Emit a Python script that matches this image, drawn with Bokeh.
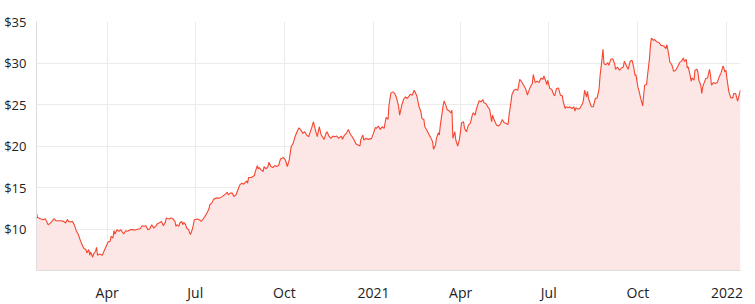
import pandas as pd
from bokeh.plotting import figure
from bokeh.models import (Range1d, FixedTicker, MonthsTicker, NumeralTickFormatter,
                          CustomJSTickFormatter, ColumnDataSource)
from bokeh.embed import file_html
from bokeh.resources import INLINE

dates = [
 "2020-01-19","2020-01-20","2020-01-23","2020-01-26","2020-01-28","2020-01-29","2020-01-31","2020-02-02",
 "2020-02-04","2020-02-06","2020-02-08","2020-02-13","2020-02-16","2020-02-18","2020-02-20","2020-02-21",
 "2020-02-23","2020-02-25","2020-02-27","2020-02-29","2020-03-02","2020-03-04","2020-03-06","2020-03-08",
 "2020-03-10","2020-03-11","2020-03-13","2020-03-14","2020-03-15","2020-03-17","2020-03-18","2020-03-20",
 "2020-03-21","2020-03-22","2020-03-24","2020-03-27","2020-03-28","2020-03-29","2020-03-31","2020-04-02",
 "2020-04-04","2020-04-05","2020-04-07","2020-04-08","2020-04-09","2020-04-11","2020-04-13","2020-04-15",
 "2020-04-18","2020-04-20","2020-04-22","2020-04-25","2020-04-28","2020-04-29","2020-05-03","2020-05-05",
 "2020-05-07","2020-05-09","2020-05-11","2020-05-13","2020-05-15","2020-05-17","2020-05-19","2020-05-21",
 "2020-05-23","2020-05-26","2020-05-27","2020-05-29","2020-05-31","2020-06-01","2020-06-04","2020-06-06",
 "2020-06-08","2020-06-10","2020-06-11","2020-06-12","2020-06-14","2020-06-15","2020-06-17","2020-06-18",
 "2020-06-19","2020-06-21","2020-06-22","2020-06-24","2020-06-25","2020-06-26","2020-06-28","2020-06-29",
 "2020-06-30","2020-07-03","2020-07-05","2020-07-07","2020-07-09","2020-07-11","2020-07-13","2020-07-15",
 "2020-07-16","2020-07-18","2020-07-20","2020-07-23","2020-07-26","2020-07-28","2020-08-01","2020-08-03",
 "2020-08-04","2020-08-06","2020-08-08","2020-08-10","2020-08-12","2020-08-14","2020-08-16","2020-08-18",
 "2020-08-20","2020-08-23","2020-08-24","2020-08-25","2020-08-28","2020-08-31","2020-09-01","2020-09-03",
 "2020-09-04","2020-09-05","2020-09-07","2020-09-09","2020-09-10","2020-09-12","2020-09-14","2020-09-15",
 "2020-09-17","2020-09-19","2020-09-21","2020-09-23","2020-09-25","2020-09-27","2020-09-30","2020-10-02",
 "2020-10-03","2020-10-04","2020-10-06","2020-10-08","2020-10-10","2020-10-12","2020-10-14","2020-10-16",
 "2020-10-18","2020-10-20","2020-10-22","2020-10-24","2020-10-26","2020-10-29","2020-10-31","2020-11-02",
 "2020-11-04","2020-11-05","2020-11-06","2020-11-08","2020-11-11","2020-11-13","2020-11-14","2020-11-16",
 "2020-11-18","2020-11-20","2020-11-22","2020-11-24","2020-11-26","2020-11-29","2020-11-30","2020-12-02",
 "2020-12-04","2020-12-06","2020-12-08","2020-12-10","2020-12-12","2020-12-14","2020-12-16","2020-12-18",
 "2020-12-19","2020-12-21","2020-12-22","2020-12-24","2020-12-27","2020-12-30","2021-01-01","2021-01-03",
 "2021-01-04","2021-01-06","2021-01-08","2021-01-10","2021-01-12","2021-01-13","2021-01-14","2021-01-16",
 "2021-01-17","2021-01-19","2021-01-21","2021-01-23","2021-01-25","2021-01-27","2021-01-28","2021-01-30",
 "2021-02-01","2021-02-03","2021-02-05","2021-02-08","2021-02-10","2021-02-12","2021-02-14","2021-02-15",
 "2021-02-17","2021-02-19","2021-02-20","2021-02-22","2021-02-23","2021-02-25","2021-02-27","2021-03-01",
 "2021-03-03","2021-03-04","2021-03-06","2021-03-07","2021-03-09","2021-03-10","2021-03-11","2021-03-13",
 "2021-03-14","2021-03-15","2021-03-17","2021-03-18","2021-03-20","2021-03-22","2021-03-23","2021-03-24",
 "2021-03-26","2021-03-27","2021-03-29","2021-03-31","2021-04-01","2021-04-02","2021-04-04","2021-04-05",
 "2021-04-07","2021-04-09","2021-04-11","2021-04-13","2021-04-14","2021-04-16","2021-04-17","2021-04-18",
 "2021-04-20","2021-04-22","2021-04-24","2021-04-25","2021-04-27","2021-04-29","2021-05-01","2021-05-03",
 "2021-05-04","2021-05-05","2021-05-08","2021-05-10","2021-05-12","2021-05-14","2021-05-16","2021-05-18",
 "2021-05-20","2021-05-21","2021-05-23","2021-05-24","2021-05-26","2021-05-28","2021-05-30","2021-06-01",
 "2021-06-03","2021-06-05","2021-06-07","2021-06-09","2021-06-10","2021-06-12","2021-06-14","2021-06-15",
 "2021-06-17","2021-06-19","2021-06-21","2021-06-23","2021-06-25","2021-06-26","2021-06-28","2021-06-29",
 "2021-06-30","2021-07-02","2021-07-04","2021-07-06","2021-07-07","2021-07-09","2021-07-11","2021-07-13",
 "2021-07-15","2021-07-16","2021-07-18","2021-07-19","2021-07-21","2021-07-23","2021-07-25","2021-07-27",
 "2021-07-28","2021-07-29","2021-07-31","2021-08-02","2021-08-05","2021-08-06","2021-08-07","2021-08-09",
 "2021-08-10","2021-08-11","2021-08-14","2021-08-16","2021-08-18","2021-08-20","2021-08-22","2021-08-23",
 "2021-08-25","2021-08-26","2021-08-27","2021-08-29","2021-08-31","2021-09-01","2021-09-03","2021-09-05",
 "2021-09-07","2021-09-08","2021-09-10","2021-09-12","2021-09-14","2021-09-16","2021-09-17","2021-09-19",
 "2021-09-21","2021-09-23","2021-09-25","2021-09-27","2021-09-28","2021-09-29","2021-10-01","2021-10-02",
 "2021-10-04","2021-10-06","2021-10-07","2021-10-08","2021-10-10","2021-10-11","2021-10-13","2021-10-14",
 "2021-10-15","2021-10-17","2021-10-18","2021-10-20","2021-10-23","2021-10-25","2021-10-28","2021-10-30",
 "2021-10-31","2021-11-02","2021-11-03","2021-11-05","2021-11-07","2021-11-09","2021-11-11","2021-11-13",
 "2021-11-15","2021-11-17","2021-11-18","2021-11-20","2021-11-21","2021-11-22","2021-11-24","2021-11-25",
 "2021-11-26","2021-11-28","2021-11-29","2021-12-01","2021-12-02","2021-12-03","2021-12-05","2021-12-06",
 "2021-12-07","2021-12-10","2021-12-12","2021-12-14","2021-12-15","2021-12-16","2021-12-18","2021-12-20",
 "2021-12-22","2021-12-24","2021-12-26","2021-12-28","2021-12-30","2021-12-31","2022-01-01","2022-01-03",
 "2022-01-05","2022-01-07","2022-01-08","2022-01-10","2022-01-12","2022-01-14","2022-01-15",
]

prices = [
 11.92,11.40,11.24,11.12,11.24,11.04,10.52,10.68,
 10.92,11.24,11.00,11.00,10.92,10.72,11.16,10.92,
 10.84,10.92,10.52,9.80,9.40,8.72,8.12,7.64,
 7.52,7.12,7.52,6.84,7.24,6.60,7.00,7.32,
 7.80,6.84,7.00,6.84,7.12,7.40,7.92,8.44,
 8.52,9.12,8.92,9.80,9.40,9.92,9.72,9.92,
 9.40,9.80,9.72,9.92,9.92,9.84,10.00,10.00,
 10.40,10.32,10.40,9.92,10.04,10.52,10.12,10.32,
 10.64,10.80,10.92,10.40,10.80,11.32,11.20,11.32,
 11.20,10.92,10.32,10.52,10.32,10.72,10.92,10.52,
 10.80,10.52,10.12,9.92,9.60,9.32,10.00,10.52,
 11.12,11.20,11.12,10.92,11.20,11.52,11.92,12.40,
 12.92,13.12,13.60,13.72,13.72,13.84,14.20,14.44,
 14.12,14.32,14.32,13.92,14.12,14.72,15.32,15.52,
 15.40,15.80,15.52,16.20,16.20,16.44,16.92,17.64,
 17.24,17.40,17.12,16.92,17.52,17.24,17.52,18.04,
 17.52,17.40,17.64,17.52,17.64,18.44,18.60,18.32,
 17.92,17.52,18.32,19.92,20.32,21.12,21.72,22.20,
 21.92,21.52,21.72,21.32,21.12,22.12,22.92,21.92,
 21.12,21.72,22.32,21.32,20.80,21.52,21.72,21.20,
 20.92,21.20,21.12,21.20,20.92,21.20,20.80,21.32,
 21.52,22.00,21.44,21.12,20.72,20.24,20.12,20.00,
 20.80,21.32,20.72,20.92,20.80,20.92,21.52,22.24,
 22.12,22.40,22.00,22.32,22.12,22.80,23.44,23.20,
 24.92,26.40,26.52,26.32,25.72,24.72,23.72,24.80,
 25.60,25.92,25.72,26.24,26.12,26.72,26.24,25.92,
 24.72,24.12,23.32,23.20,22.32,21.92,21.44,21.04,
 20.52,19.60,20.12,20.92,21.60,21.32,22.52,24.12,
 24.92,25.44,24.80,24.40,24.24,24.00,24.32,20.92,
 21.72,20.72,20.00,20.92,21.92,22.80,22.92,22.12,
 21.72,22.52,22.72,23.72,24.00,23.72,24.32,24.72,
 25.44,25.32,25.60,25.20,25.12,24.72,24.40,22.92,
 23.72,23.32,22.52,22.40,22.64,23.20,22.80,22.72,
 22.60,23.72,25.32,26.20,26.72,26.84,26.72,28.04,
 27.72,27.32,26.92,26.12,26.52,27.12,27.52,28.60,
 27.64,27.80,27.64,28.20,28.04,28.44,27.80,27.40,
 27.92,26.92,26.84,26.20,26.04,26.92,27.00,26.12,
 26.04,25.32,24.52,24.72,24.60,24.72,24.52,24.72,
 24.20,24.60,24.44,24.52,25.12,25.72,26.72,25.92,
 26.60,25.72,24.72,24.72,25.72,25.80,26.92,28.50,
 30.50,31.64,29.92,29.80,30.04,29.72,30.44,30.52,
 29.92,29.24,29.52,29.12,29.40,29.52,30.20,29.72,
 29.24,30.20,30.32,29.32,28.52,28.60,27.12,26.72,
 25.72,24.84,26.12,27.32,27.40,28.52,30.52,32.12,
 33.00,32.72,32.84,32.60,32.44,32.12,32.04,31.72,
 32.20,30.92,30.12,29.80,29.00,29.12,29.52,30.04,
 30.20,30.60,30.20,30.44,29.40,29.52,28.52,27.80,
 28.20,27.92,29.12,29.24,28.92,27.92,27.32,26.32,
 27.12,28.12,28.20,29.24,28.52,27.32,27.64,27.52,
 27.64,28.32,28.84,29.64,28.92,29.12,28.12,26.52,
 25.80,25.80,26.32,26.32,25.40,26.32,26.72,
]

y_ticks = [10, 15, 20, 25, 30, 35]
y_min, y_max = 5, 35
month_labels = ["Jan", "Feb", "Mar", "Apr", "May", "Jun", "Jul", "Aug", "Sep", "Oct", "Nov", "Dec"]

x = pd.to_datetime(dates)
src = ColumnDataSource(dict(x=x, y=prices, base=[y_min] * len(prices)))

FONT = "Open Sans"
TXT = "#222222"
GRID = "#ebebeb"

p = figure(width=755, height=304, output_backend="svg", toolbar_location=None,
           x_axis_type="datetime",
           x_range=Range1d(x.min(), x.max()), y_range=Range1d(y_min, y_max),
           min_border_left=36, min_border_right=15, min_border_top=21, min_border_bottom=33)
p.background_fill_color = "white"
p.border_fill_color = "white"
p.outline_line_color = None

p.varea(x="x", y1="base", y2="y", source=src, fill_color="#fde7e6", fill_alpha=1.0)
p.line(x="x", y="y", source=src, line_color="#f5452f", line_width=1.1)

p.yaxis.ticker = FixedTicker(ticks=y_ticks)
p.yaxis.formatter = NumeralTickFormatter(format="$0")
p.xaxis.ticker = MonthsTicker(months=[0, 3, 6, 9])
p.xaxis.formatter = CustomJSTickFormatter(args=dict(names=month_labels), code="""
    const d = new Date(tick);
    const m = d.getUTCMonth();
    return m == 0 ? String(d.getUTCFullYear()) : names[m];
""")

for ax in (p.xaxis[0], p.yaxis[0]):
    ax.major_tick_line_color = None
    ax.minor_tick_line_color = None
    ax.axis_line_color = "#dddddd"
    ax.major_label_text_font = FONT
    ax.major_label_text_color = TXT
p.yaxis.major_label_text_font_size = "13px"
p.xaxis.major_label_text_font_size = "14px"
p.yaxis.major_label_standoff = 4
p.xaxis.major_label_standoff = 6

p.xgrid.grid_line_color = GRID
p.ygrid.grid_line_color = GRID
p.xgrid.ticker = p.xaxis[0].ticker
p.ygrid.ticker = p.yaxis[0].ticker

open("out.html", "w").write(file_html(p, INLINE))
